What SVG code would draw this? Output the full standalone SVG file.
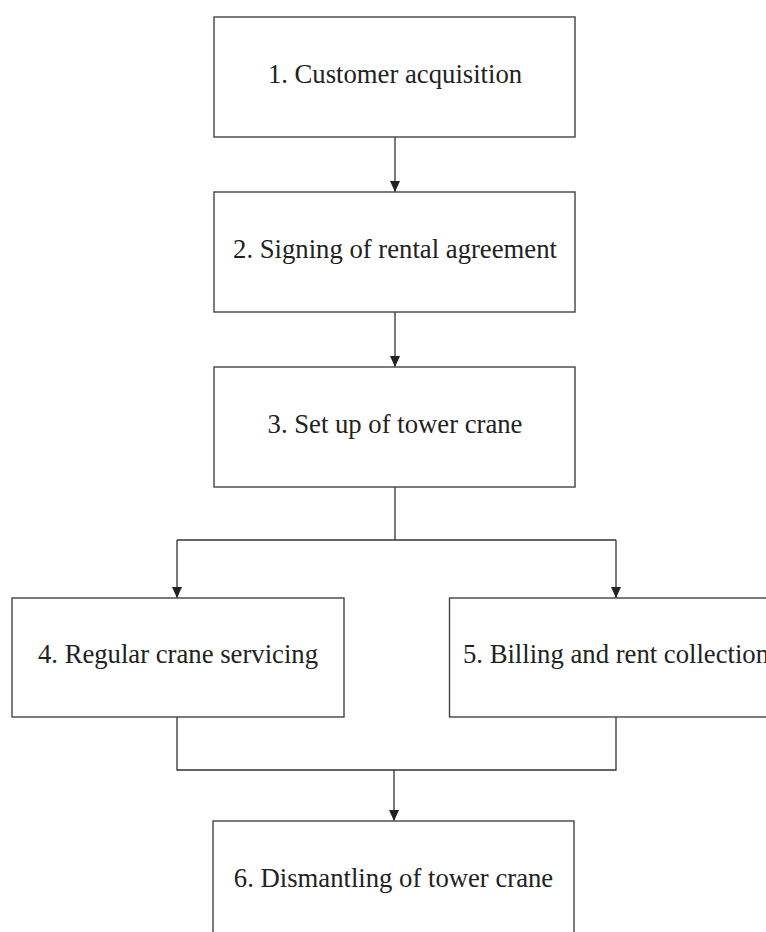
<svg xmlns="http://www.w3.org/2000/svg" width="766" height="932" viewBox="0 0 766 932">
<style>
.box{fill:#fff;stroke:#444;stroke-width:1.4}
.lbl{font-family:"Liberation Serif","Times New Roman",serif;font-size:26.7px;fill:#222;text-anchor:middle}
.con{fill:none;stroke:#333;stroke-width:1.3}
</style>
<defs>
<marker id="ah" markerUnits="userSpaceOnUse" markerWidth="11" markerHeight="11" refX="11" refY="5" orient="auto">
<path d="M0,0 L11,5 L0,10 Z" fill="#222"/>
</marker>
</defs>
<rect width="766" height="932" fill="#fff"/>
<g id="connectors">
<line class="con" x1="395" y1="137" x2="395" y2="192" marker-end="url(#ah)"/>
<line class="con" x1="395" y1="312" x2="395" y2="367" marker-end="url(#ah)"/>
<polyline class="con" points="395,487 395,540"/>
<polyline class="con" points="177,540 616,540"/>
<line class="con" x1="177" y1="540" x2="177" y2="598" marker-end="url(#ah)"/>
<line class="con" x1="616" y1="540" x2="616" y2="598" marker-end="url(#ah)"/>
<polyline class="con" points="177,717 177,770 616,770 616,717"/>
<line class="con" x1="394" y1="770" x2="394" y2="821" marker-end="url(#ah)"/>
</g>
<g id="n1"><rect class="box" x="214" y="17" width="361" height="120"/><text class="lbl" x="395" y="83">1. Customer acquisition</text></g>
<g id="n2"><rect class="box" x="214" y="192" width="361" height="120"/><text class="lbl" x="395" y="258">2. Signing of rental agreement</text></g>
<g id="n3"><rect class="box" x="214" y="367" width="361" height="120"/><text class="lbl" x="395" y="433">3. Set up of tower crane</text></g>
<g id="n4"><rect class="box" x="12" y="598" width="332" height="119"/><text class="lbl" x="178" y="663">4. Regular crane servicing</text></g>
<g id="n5"><rect class="box" x="449.5" y="598" width="333" height="119"/><text class="lbl" x="616" y="663">5. Billing and rent collection</text></g>
<g id="n6"><rect class="box" x="213" y="821" width="361" height="120"/><text class="lbl" x="393.5" y="887">6. Dismantling of tower crane</text></g>
</svg>
